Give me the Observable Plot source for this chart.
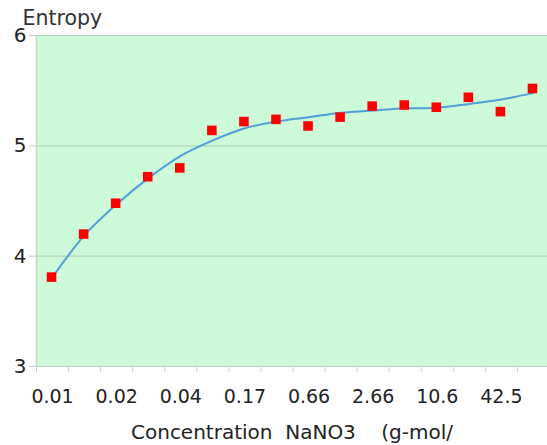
<!DOCTYPE html>
<html>
<head>
<meta charset="utf-8">
<script src="https://cdn.jsdelivr.net/npm/d3@7"></script>
<script src="https://cdn.jsdelivr.net/npm/@observablehq/plot@0.6"></script>
<style>
  html, body { margin: 0; padding: 0; background: #fff; }
  svg { white-space: pre; }
</style>
</head>
<body>
<div id="chart"></div>
<script>
const concentrationLabels = ["0.01", "", "0.02", "", "0.04", "", "0.17", "", "0.66", "", "2.66", "", "10.6", "", "42.5", ""];
const entropy = [3.81, 4.20, 4.48, 4.72, 4.80, 5.14, 5.22, 5.24, 5.18, 5.26, 5.36, 5.37, 5.35, 5.44, 5.31, 5.52];
const fitted  = [3.81, 4.19, 4.47, 4.71, 4.91, 5.05, 5.16, 5.22, 5.26, 5.30, 5.32, 5.34, 5.345, 5.38, 5.42, 5.48];
const yTicks = [3, 4, 5, 6];

const idx = concentrationLabels.map((_, i) => i);
const points = idx.map(i => ({i, e: entropy[i], f: fitted[i]}));
const bandEdges = idx.map(i => i - 0.5);
const labelled = idx.filter(i => concentrationLabels[i] !== "");

const chart = Plot.plot({
  width: 547,
  height: 445,
  marginTop: 35,
  marginBottom: 79,
  marginLeft: 36,
  marginRight: 0,
  style: {fontFamily: "DejaVu Sans, sans-serif", fontSize: "19px", color: "#222", background: "#fff"},
  x: {domain: [-0.5, idx.length - 0.5], range: [36, 549]},
  y: {domain: [3, 6]},
  marks: [
    Plot.frame({fill: "#cdfad8", stroke: "none"}),
    Plot.ruleY(yTicks, {stroke: "#b3d4ba", strokeWidth: 1.2}),
    Plot.ruleX([-0.5], {stroke: "#c3d8c7", strokeWidth: 1.5}),
    Plot.axisY({ticks: yTicks, tickSize: 7, tickPadding: 3, tickFormat: "d", stroke: "#c8c8c8", label: null, fontSize: 20}),
    Plot.axisX({ticks: bandEdges, tickSize: 6, tickFormat: () => "", stroke: "#d0d0d0", label: null}),
    Plot.axisX({ticks: labelled, tickSize: 0, tickPadding: 23, tickFormat: i => concentrationLabels[i],
      fontSize: 19,
      label: "Concentration\u00a0\u00a0NaNO3\u00a0\u00a0\u00a0\u00a0(g-mol/", labelAnchor: "center", labelArrow: "none", labelOffset: 72}),
    Plot.text(["Entropy"], {frameAnchor: "top-left", dx: -14, dy: -17, textAnchor: "start", lineAnchor: "middle", fontSize: 20.5, fill: "#333"}),
    Plot.line(points, {x: "i", y: "f", curve: "catmull-rom", stroke: "#4f9fda", strokeWidth: 2}),
    Plot.dot(points, {x: "i", y: "e", symbol: "square", r: 5.4, fill: "#ff0000", stroke: "none", dx: -1})
  ]
});
chart.querySelectorAll("g[aria-label='x-axis label'] text, g[aria-label='x-axis label']").forEach(el => el.setAttribute("font-size", "20"));
document.getElementById("chart").appendChild(chart);
</script>
</body>
</html>
